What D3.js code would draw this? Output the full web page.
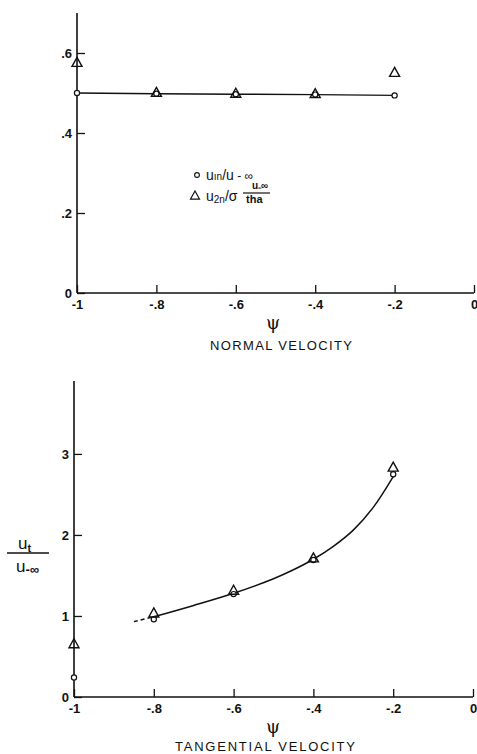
<!DOCTYPE html>
<html><head><meta charset="utf-8">
<script src="https://cdn.jsdelivr.net/npm/d3@7"></script>
<style>
body{margin:0;background:#fff;}
svg{display:block;}
text{font-family:"Liberation Sans",Arial,Helvetica,sans-serif;fill:#111;}
</style></head>
<body>
<script>
// ---------- DATA ----------
const psi = [-1, -0.8, -0.6, -0.4, -0.2];
// Normal velocity
const u1n = [0.500, 0.498, 0.497, 0.496, 0.494];
const u2n = [0.575, 0.500, 0.498, 0.497, 0.550];
const normalLinePsi = [-1, -0.8, -0.6, -0.4, -0.2];
const normalLineVal = [0.500, 0.498, 0.497, 0.496, 0.494];
// Tangential velocity
const utCirc = [0.24, 0.96, 1.27, 1.69, 2.75];
const utTri  = [0.65, 1.03, 1.31, 1.71, 2.83];
const fitPsiDash = [-0.85, -0.8];
const fitValDash = [0.93, 0.99];
const fitPsi = [-0.8, -0.7, -0.6, -0.5, -0.45, -0.4, -0.35, -0.3, -0.25, -0.2];
const fitVal = [0.99, 1.13, 1.28, 1.46, 1.57, 1.70, 1.86, 2.06, 2.34, 2.72];
// Ticks
const xTicks = [-1, -0.8, -0.6, -0.4, -0.2, 0];
const xTickLabels = ["-1", "-.8", "-.6", "-.4", "-.2", "0"];
const yTicksTop = [0, 0.2, 0.4, 0.6];
const yTickLabelsTop = ["0", ".2", ".4", ".6"];
const yTicksBot = [0, 1, 2, 3];
const yTickLabelsBot = ["0", "1", "2", "3"];

// ---------- DRAW ----------
const W = 477, H = 754;
const svg = d3.select("body").append("svg").attr("width", W).attr("height", H);

function triPath(cx, cy, s) {
  const h = s * 0.9;
  return `M${cx},${cy - h * 0.62} L${cx + s / 2},${cy + h * 0.38} L${cx - s / 2},${cy + h * 0.38} Z`;
}

function drawPanel(cfg) {
  const g = svg.append("g");
  const x = d3.scaleLinear().domain([-1, 0]).range(cfg.xr);
  const y = d3.scaleLinear().domain([0, cfg.ymax]).range(cfg.yr);

  const ya = d3.axisLeft(y).tickValues(cfg.yTicks).tickSizeInner(-8).tickSizeOuter(0)
    .tickPadding(4).tickFormat((d, i) => cfg.yLabels[i]);
  const gy = g.append("g").attr("transform", `translate(${cfg.xr[0]},0)`).call(ya);
  gy.attr("font-size", null).attr("font-family", null);
  gy.select(".domain").remove();
  gy.selectAll(".tick line").attr("stroke", "#111").attr("stroke-width", 1.3);
  gy.selectAll(".tick text").attr("font-size", 13).attr("font-weight", "bold").attr("x", -5)
    .attr("dy", "0.35em");
  g.append("line").attr("x1", cfg.xr[0]).attr("x2", cfg.xr[0])
    .attr("y1", cfg.yr[0]).attr("y2", cfg.yr[1])
    .attr("stroke", "#111").attr("stroke-width", 1.6);

  const xa = d3.axisBottom(x).tickValues(xTicks).tickSizeInner(-8).tickSizeOuter(0)
    .tickPadding(6).tickFormat((d, i) => xTickLabels[i]);
  const gx = g.append("g").attr("transform", `translate(0,${cfg.yr[0]})`).call(xa);
  gx.attr("font-size", null).attr("font-family", null);
  gx.select(".domain").remove();
  gx.selectAll(".tick line").attr("stroke", "#111").attr("stroke-width", 1.3);
  gx.selectAll(".tick text").attr("font-size", 13).attr("font-weight", "bold").attr("y", 7);
  g.append("line").attr("x1", cfg.xr[0]).attr("x2", cfg.xr[1])
    .attr("y1", cfg.yr[0]).attr("y2", cfg.yr[0])
    .attr("stroke", "#111").attr("stroke-width", 1.6);

  g.append("text").attr("x", 273).attr("y", cfg.yr[0] + 36).attr("text-anchor", "middle")
    .attr("font-size", 18).style("font-family", "'DejaVu Serif',serif").text("ψ");
  g.append("text").attr("x", cfg.titleX).attr("y", cfg.yr[0] + cfg.titleDy).attr("text-anchor", "middle")
    .attr("font-size", 13).attr("textLength", cfg.titleLen).attr("lengthAdjust", "spacing")
    .text(cfg.title);
  return { g, x, y };
}

// ----- Top panel -----
const topP = drawPanel({ xr: [77, 474], yr: [293, 13], ymax: 0.7,
  yTicks: yTicksTop, yLabels: yTickLabelsTop,
  title: "NORMAL VELOCITY", titleX: 281, titleLen: 142, titleDy: 57 });

topP.g.append("path")
  .datum(normalLinePsi.map((p, i) => [p, normalLineVal[i]]))
  .attr("fill", "none").attr("stroke", "#111").attr("stroke-width", 1.4)
  .attr("d", d3.line().x(d => topP.x(d[0])).y(d => topP.y(d[1])));
topP.g.selectAll(".c1").data(psi).join("circle")
  .attr("cx", d => topP.x(d)).attr("cy", (d, i) => topP.y(u1n[i])).attr("r", 2.6)
  .attr("fill", "#fff").attr("stroke", "#111").attr("stroke-width", 1.2);
topP.g.selectAll(".t1").data(psi).join("path")
  .attr("d", (d, i) => triPath(topP.x(d), topP.y(u2n[i]), 10))
  .attr("fill", "none").attr("stroke", "#111").attr("stroke-width", 1.4);

// legend
const lg = topP.g.append("g");
lg.append("circle").attr("cx", 197).attr("cy", 175).attr("r", 2.4)
  .attr("fill", "#fff").attr("stroke", "#111").attr("stroke-width", 1.1);
const l1 = lg.append("text").attr("x", 206).attr("y", 180).attr("font-size", 14);
l1.append("tspan").text("u");
l1.append("tspan").attr("font-size", 10).text("ın");
l1.append("tspan").text("/u");
l1.append("tspan").attr("font-size", 12).text(" - ∞");
lg.append("path").attr("d", triPath(195, 196, 9)).attr("fill", "none")
  .attr("stroke", "#111").attr("stroke-width", 1.2);
const l2 = lg.append("text").attr("x", 206).attr("y", 201).attr("font-size", 14);
l2.append("tspan").text("u");
l2.append("tspan").attr("font-size", 10).attr("dy", 2).text("2n");
l2.append("tspan").attr("dy", -2).text("/σ");
lg.append("text").attr("x", 252).attr("y", 189).attr("font-size", 10).attr("font-weight", "bold").text("u₋∞");
lg.append("text").attr("x", 246).attr("y", 203).attr("font-size", 11).attr("font-weight", "bold").text("tha");
lg.append("line").attr("x1", 243).attr("x2", 270).attr("y1", 193).attr("y2", 193)
  .attr("stroke", "#111").attr("stroke-width", 1.2);

// ----- Bottom panel -----
const botP = drawPanel({ xr: [74, 473], yr: [697, 381], ymax: 3.9,
  yTicks: yTicksBot, yLabels: yTickLabelsBot,
  title: "TANGENTIAL VELOCITY", titleX: 265, titleLen: 180, titleDy: 54 });

const ln = d3.line().x(d => botP.x(d[0])).y(d => botP.y(d[1])).curve(d3.curveCatmullRom.alpha(0.5));
botP.g.append("path").datum(fitPsiDash.map((p, i) => [p, fitValDash[i]]))
  .attr("fill", "none").attr("stroke", "#111").attr("stroke-width", 1.4)
  .attr("stroke-dasharray", "4,3").attr("d", ln);
botP.g.append("path").datum(fitPsi.map((p, i) => [p, fitVal[i]]))
  .attr("fill", "none").attr("stroke", "#111").attr("stroke-width", 1.5).attr("d", ln);
botP.g.selectAll(".c2").data(psi).join("circle")
  .attr("cx", d => botP.x(d)).attr("cy", (d, i) => botP.y(utCirc[i])).attr("r", 2.6)
  .attr("fill", "#fff").attr("stroke", "#111").attr("stroke-width", 1.2);
botP.g.selectAll(".t2").data(psi).join("path")
  .attr("d", (d, i) => triPath(botP.x(d), botP.y(utTri[i]), 10))
  .attr("fill", "none").attr("stroke", "#111").attr("stroke-width", 1.4);

// y label (fraction)
const yl = svg.append("g");
const yt = yl.append("text").attr("x", 18).attr("y", 549).attr("font-size", 17);
yt.append("tspan").text("u");
yt.append("tspan").attr("font-size", 11).attr("font-weight", "bold").attr("dy", 3).text("t");
yl.append("line").attr("x1", 7).attr("x2", 49).attr("y1", 553).attr("y2", 553)
  .attr("stroke", "#111").attr("stroke-width", 1.3);
const yb = yl.append("text").attr("x", 16).attr("y", 572).attr("font-size", 17);
yb.append("tspan").text("u");
yb.append("tspan").attr("font-size", 13).attr("font-weight", "bold").attr("dy", 2).text("-∞");
</script>
</body></html>
